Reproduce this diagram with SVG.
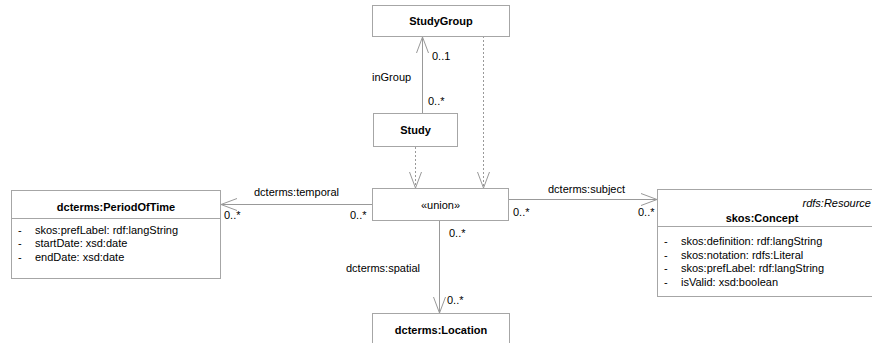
<svg xmlns="http://www.w3.org/2000/svg" width="872" height="343" viewBox="0 0 872 343">
  <style>
    .box { fill: #ffffff; stroke: #a6a6a6; stroke-width: 1; }
    .div { stroke: #a6a6a6; stroke-width: 1; }
    .t { font-family: "Liberation Sans", Arial, sans-serif; font-size: 11px; fill: #000000; }
    .b { font-weight: bold; }
    .i { font-style: italic; }
    .mid { text-anchor: middle; }
    .end { text-anchor: end; }
    .assoc { fill: none; stroke: #999999; stroke-width: 1; }
    .dep { fill: none; stroke: #999999; stroke-width: 1; stroke-dasharray: 2 2; }
  </style>
  <defs>
    <marker id="open" markerUnits="userSpaceOnUse" markerWidth="20" markerHeight="16" viewBox="-17 -8 20 16" refX="0" refY="0" orient="auto">
      <path d="M -16 -6 L 0 0 L -16 6" fill="none" stroke="#999999" stroke-width="1"/>
    </marker>
  </defs>

  <rect x="0" y="0" width="872" height="343" fill="#ffffff"/>

  <!-- connectors -->
  <g id="connectors">
    <path class="assoc" d="M 422.5 113 L 422.5 37" marker-end="url(#open)"/>
    <path class="dep" d="M 415.5 147 L 415.5 188" marker-end="url(#open)"/>
    <path class="dep" d="M 483.5 36 L 483.5 188" marker-end="url(#open)"/>
    <path class="assoc" d="M 372 204.5 L 221 204.5" marker-end="url(#open)"/>
    <path class="assoc" d="M 509 199.5 L 657 199.5" marker-end="url(#open)"/>
    <path class="assoc" d="M 439.5 221 L 439.5 313" marker-end="url(#open)"/>

    <text class="t" x="432" y="60">0..1</text>
    <text class="t" x="372" y="81">inGroup</text>
    <text class="t" x="428" y="105">0..*</text>
    <text class="t" x="254" y="196">dcterms:temporal</text>
    <text class="t" x="224" y="219">0..*</text>
    <text class="t" x="350" y="219">0..*</text>
    <text class="t" x="548" y="193">dcterms:subject</text>
    <text class="t" x="513" y="216">0..*</text>
    <text class="t" x="638" y="216">0..*</text>
    <text class="t" x="449" y="237">0..*</text>
    <text class="t" x="346" y="272">dcterms:spatial</text>
    <text class="t" x="447" y="304">0..*</text>
  </g>

  <!-- classes -->
  <g id="StudyGroup">
    <rect class="box" x="372.5" y="5.5" width="137" height="31"/>
    <text class="t b mid" x="441" y="25">StudyGroup</text>
  </g>

  <g id="Study">
    <rect class="box" x="373.5" y="113.5" width="84" height="33"/>
    <text class="t b mid" x="415.5" y="134">Study</text>
  </g>

  <g id="union">
    <rect class="box" x="372.5" y="188.5" width="136" height="32"/>
    <text class="t mid" x="440.5" y="209">«union»</text>
  </g>

  <g id="PeriodOfTime">
    <rect class="box" x="11.5" y="190.5" width="209" height="88"/>
    <line class="div" x1="11.5" y1="218.5" x2="220.5" y2="218.5"/>
    <text class="t b mid" x="116" y="211">dcterms:PeriodOfTime</text>
    <text class="t" x="18" y="234">-</text>
    <text class="t" x="35" y="234">skos:prefLabel: rdf:langString</text>
    <text class="t" x="18" y="247">-</text>
    <text class="t" x="35" y="247">startDate: xsd:date</text>
    <text class="t" x="18" y="261">-</text>
    <text class="t" x="35" y="261">endDate: xsd:date</text>
  </g>

  <g id="Concept">
    <rect class="box" x="657.5" y="189.5" width="220" height="107"/>
    <line class="div" x1="657.5" y1="226.5" x2="877.5" y2="226.5"/>
    <text class="t i end" x="871" y="207">rdfs:Resource</text>
    <text class="t b mid" x="762" y="222">skos:Concept</text>
    <text class="t" x="664" y="245">-</text>
    <text class="t" x="681" y="245">skos:definition: rdf:langString</text>
    <text class="t" x="664" y="259">-</text>
    <text class="t" x="681" y="259">skos:notation: rdfs:Literal</text>
    <text class="t" x="664" y="272">-</text>
    <text class="t" x="681" y="272">skos:prefLabel: rdf:langString</text>
    <text class="t" x="664" y="286">-</text>
    <text class="t" x="681" y="286">isValid: xsd:boolean</text>
  </g>

  <g id="Location">
    <rect class="box" x="372.5" y="313.5" width="137" height="40"/>
    <text class="t b mid" x="441" y="334">dcterms:Location</text>
  </g>
</svg>
